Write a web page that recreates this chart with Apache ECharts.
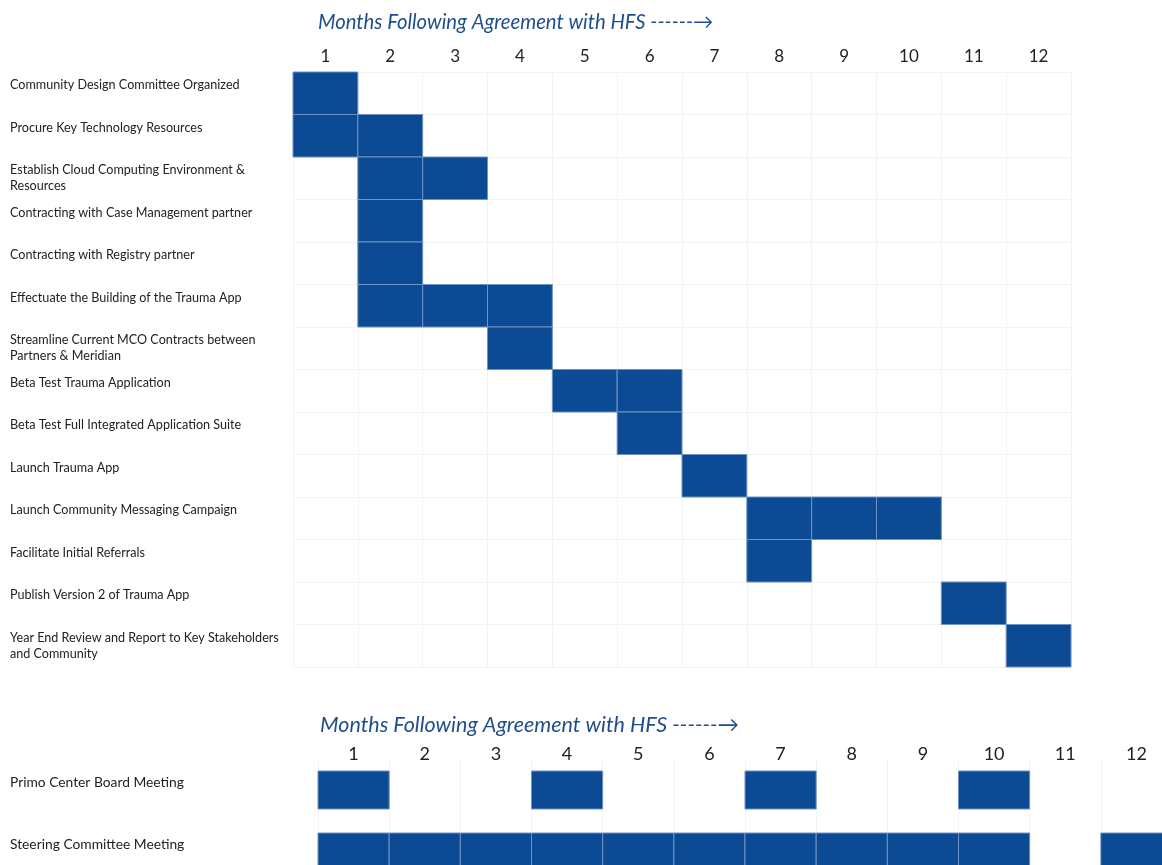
<!DOCTYPE html>
<html>
<head>
<meta charset="utf-8">
<title>Project Timeline</title>
<script src="https://cdn.jsdelivr.net/npm/echarts@6/dist/echarts.min.js"></script>
<style>
  html, body { margin: 0; padding: 0; background: #ffffff; }
  #chart { width: 1162px; height: 865px; }
</style>
</head>
<body>
<div id="chart"></div>
<script>
// Month columns shared by both timelines
const monthLabels = ['1', '2', '3', '4', '5', '6', '7', '8', '9', '10', '11', '12'];

// Project tasks (top timeline)
const taskNames = [
  'Community Design Committee Organized',
  'Procure Key Technology Resources',
  'Establish Cloud Computing Environment &\nResources',
  'Contracting with Case Management partner',
  'Contracting with Registry partner',
  'Effectuate the Building of the Trauma App',
  'Streamline Current MCO Contracts between\nPartners & Meridian',
  'Beta Test Trauma Application',
  'Beta Test Full Integrated Application Suite',
  'Launch Trauma App',
  'Launch Community Messaging Campaign',
  'Facilitate Initial Referrals',
  'Publish Version 2 of Trauma App',
  'Year End Review and Report to Key Stakeholders\nand Community'
];
// Active months for each task
const taskMonths = [
  [1],
  [1, 2],
  [2, 3],
  [2],
  [2],
  [2, 3, 4],
  [4],
  [5, 6],
  [6],
  [7],
  [8, 9, 10],
  [8],
  [11],
  [12]
];

// Recurring meetings (bottom timeline)
const meetingNames = ['Primo Center Board Meeting', 'Steering Committee Meeting'];
const meetingMonths = [
  [1, 4, 7, 10],
  [1, 2, 3, 4, 5, 6, 7, 8, 9, 10, 12]
];

const titleText = 'Months Following Agreement with HFS ------\u2192';

const BLUE = '#0d4a94';
const EDGE = '#6f92c4';
const GRID_LINE = '#f3f3f3';
const LABEL_FONT = 'Lato, "Open Sans", sans-serif';

function toCells(monthLists) {
  const cells = [];
  monthLists.forEach((months, row) => {
    months.forEach(m => cells.push([m - 1, row]));
  });
  return cells;
}

function cellRenderer(fillRatio) {
  return function (params, api) {
    const c = api.coord([api.value(0), api.value(1)]);
    const s = api.size([1, 1]);
    const h = s[1] * fillRatio;
    return {
      type: 'rect',
      shape: { x: c[0] - s[0] / 2, y: c[1] - h / 2, width: s[0], height: h },
      style: { fill: BLUE, stroke: EDGE, lineWidth: 1 }
    };
  };
}

// Single-line labels sit toward the top of their row, like two-line ones
function rowLabel(v) {
  return v.indexOf('\n') >= 0 ? v : v + '\n ';
}

const chart = echarts.init(document.getElementById('chart'), null, { renderer: 'canvas' });

chart.setOption({
  backgroundColor: '#ffffff',
  animation: false,
  title: [
    {
      text: titleText,
      left: 313, top: 7,
      textStyle: { fontSize: 20.3, fontStyle: 'italic', fontWeight: 'normal', color: '#1f4e8c', fontFamily: LABEL_FONT }
    },
    {
      text: titleText,
      left: 315, top: 709,
      textStyle: { fontSize: 21.5, fontStyle: 'italic', fontWeight: 'normal', color: '#1f4e8c', fontFamily: LABEL_FONT }
    }
  ],
  grid: [
    { left: 293, top: 72, width: 778, height: 595, outerBoundsMode: 'none', containLabel: false },
    { left: 318, top: 759, width: 854, height: 124, outerBoundsMode: 'none', containLabel: false }
  ],
  xAxis: [
    {
      gridIndex: 0, type: 'category', data: monthLabels, position: 'top',
      axisLine: { show: false }, axisTick: { show: false },
      axisLabel: { margin: 7, fontSize: 17, color: '#222222', fontFamily: LABEL_FONT },
      splitLine: { show: true, lineStyle: { color: GRID_LINE, width: 1 } }
    },
    {
      gridIndex: 1, type: 'category', data: monthLabels, position: 'top',
      axisLine: { show: false }, axisTick: { show: false },
      axisLabel: { margin: -4, fontSize: 18, color: '#222222', fontFamily: LABEL_FONT },
      splitLine: { show: true, lineStyle: { color: GRID_LINE, width: 1 } }
    }
  ],
  yAxis: [
    {
      gridIndex: 0, type: 'category', data: taskNames, inverse: true,
      axisLine: { show: false }, axisTick: { show: false },
      axisLabel: {
        align: 'left', margin: 283, fontSize: 12.6, lineHeight: 16,
        color: '#222222', fontFamily: LABEL_FONT, formatter: rowLabel
      },
      splitLine: { show: true, lineStyle: { color: GRID_LINE, width: 1 } }
    },
    {
      gridIndex: 1, type: 'category', data: meetingNames, inverse: true,
      axisLine: { show: false }, axisTick: { show: false },
      axisLabel: {
        align: 'left', margin: 308, fontSize: 13.8, lineHeight: 14,
        color: '#222222', fontFamily: LABEL_FONT, formatter: rowLabel
      },
      splitLine: { show: false }
    }
  ],
  series: [
    {
      name: 'Tasks', type: 'custom', xAxisIndex: 0, yAxisIndex: 0,
      renderItem: cellRenderer(1), data: toCells(taskMonths), silent: true
    },
    {
      name: 'Meetings', type: 'custom', xAxisIndex: 1, yAxisIndex: 1,
      renderItem: cellRenderer(38 / 62), data: toCells(meetingMonths), silent: true
    }
  ]
});
</script>
</body>
</html>
